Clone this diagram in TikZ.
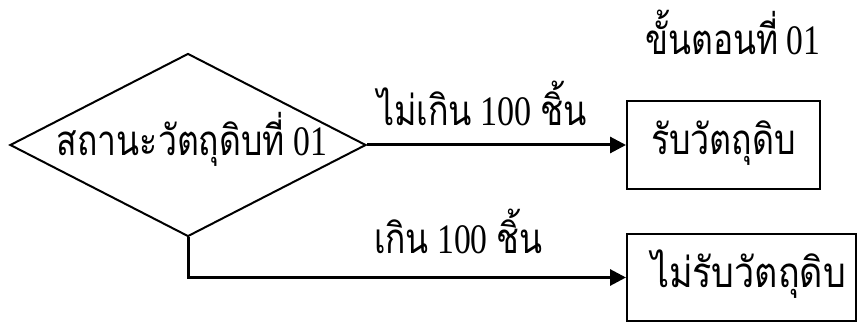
\documentclass[tikz,border=0pt]{standalone}
\usepackage{fontspec}
\setmainfont{Liberation Serif}
\newfontfamily\thai[Script=Thai]{Loma}
\usetikzlibrary{arrows.meta,shapes.geometric}
\newcommand{\fitw}[2]{\resizebox{#1}{\height}{#2}}
\tikzset{
  txt/.style={font=\fontsize{42}{48}\selectfont},
  shapebox/.style={draw, line width=2pt, rectangle, inner sep=0pt, minimum width=193pt, minimum height=88pt, txt, text height=30pt, text depth=10pt},
  decision/.style={draw, line width=2pt, diamond, inner sep=0pt, minimum width=356pt, minimum height=183pt},
  conn/.style={line width=3pt, -{Triangle[length=16pt,width=16pt]}},
  lbl/.style={txt, inner sep=0pt, anchor=base}
}
\begin{document}
\begin{tikzpicture}[x=1pt,y=1pt]
\useasboundingbox (0,0) rectangle (858,323);
\node[decision] (d) at (188,178) {};
\node[lbl] (dt) at (192,167) {\fitw{270pt}{{\thai สถานะวัตถุดิบที่} 01}};
\node[shapebox] (b1) at (723.5,178) {\fitw{145pt}{\thai รับวัตถุดิบ}};
\node[shapebox, minimum width=229pt, minimum height=87pt] (b2) at (741.5,45.5) {\hspace*{14pt}\fitw{195pt}{\thai ไม่รับวัตถุดิบ}};
\node[lbl] (l1) at (482,197) {\fitw{210pt}{{\thai ไม่เกิน} 100 {\thai ชิ้น}}};
\node[lbl] (l2) at (458,69) {\fitw{168pt}{{\thai เกิน} 100 {\thai ชิ้น}}};
\node[lbl] (t) at (733,268) {\fitw{175pt}{{\thai ขั้นตอนที่} 01}};
\draw[conn] (d.east) -- (b1.west);
\draw[conn] (d.south) |- (b2.west);
\end{tikzpicture}
\end{document}
